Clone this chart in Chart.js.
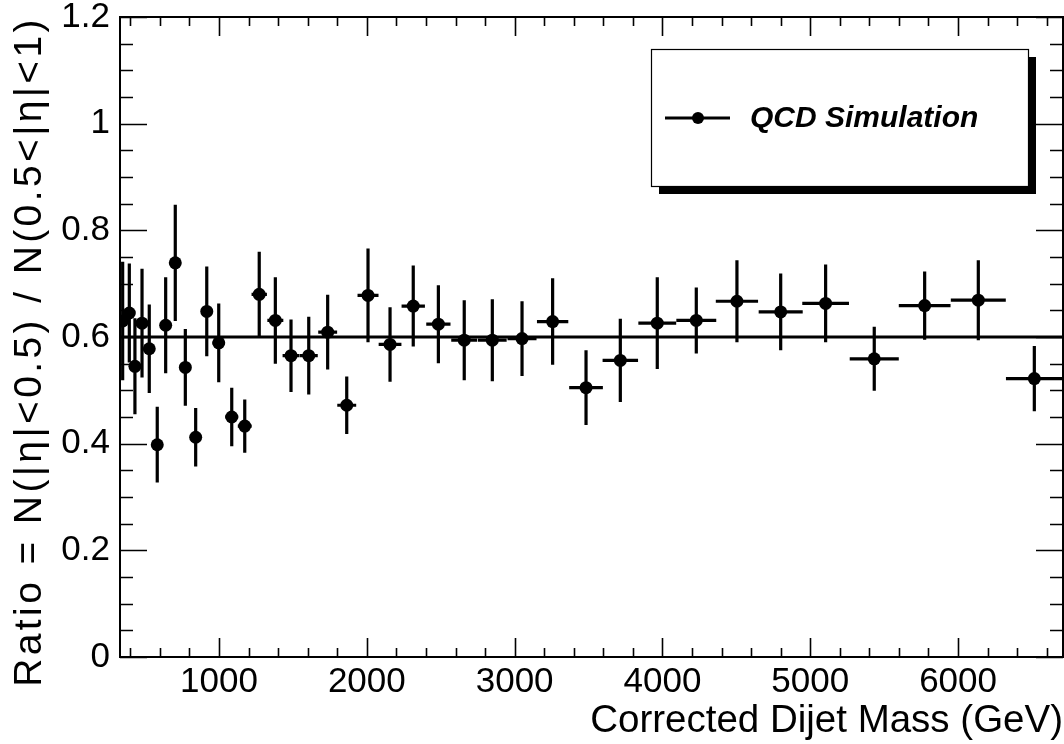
<!DOCTYPE html>
<html><head><meta charset="utf-8">
<script src="https://cdn.jsdelivr.net/npm/chart.js@4/dist/chart.umd.min.js"></script>
<style>html,body{margin:0;padding:0;background:#fff;}canvas{display:block;}</style>
</head><body>
<canvas id="c" width="1064" height="744"></canvas>
<script>
// ---- data ----
const massGeV = [348, 393, 431, 479, 528, 582, 639, 704, 772, 842, 917, 998, 1086, 1174, 1272, 1381, 1487, 1607, 1735, 1864,
  2008, 2157, 2314, 2484, 2659, 2849, 3050, 3257, 3483, 3715, 3965, 4229, 4504, 4800, 5104, 5433, 5774, 6137, 6516];
const massHalfWidth = [20, 21, 22, 24, 26, 28, 30, 33, 35, 37, 39, 42, 44, 47, 52, 54, 57, 61, 64, 64,
  71, 77, 79, 82, 88, 97, 98, 106, 114, 120, 128, 135, 143, 149, 158, 166, 175, 186, 192];
const ratio = [0.630, 0.645, 0.545, 0.626, 0.578, 0.398, 0.622, 0.739, 0.543, 0.412, 0.648, 0.589, 0.450, 0.433, 0.680, 0.631, 0.565, 0.565, 0.609, 0.472,
  0.678, 0.586, 0.658, 0.624, 0.594, 0.594, 0.597, 0.629, 0.505, 0.556, 0.626, 0.631, 0.667, 0.647, 0.663, 0.559, 0.659, 0.669, 0.522];
const ratioErr = [0.111, 0.093, 0.090, 0.102, 0.083, 0.071, 0.090, 0.109, 0.072, 0.055, 0.084, 0.074, 0.055, 0.050, 0.080, 0.081, 0.068, 0.073, 0.070, 0.054,
  0.088, 0.070, 0.076, 0.073, 0.075, 0.077, 0.070, 0.081, 0.070, 0.078, 0.086, 0.062, 0.077, 0.072, 0.073, 0.060, 0.064, 0.075, 0.061];
const fitMass = [330, 6710];
const fitRatio = [0.6, 0.6];
const xTickValues = [1000, 2000, 3000, 4000, 5000, 6000];
const yTickValues = [0, 0.2, 0.4, 0.6, 0.8, 1, 1.2];
const seriesLabel = 'QCD Simulation';
const xTitle = 'Corrected Dijet Mass (GeV)';
const yTitle = 'Ratio = N(|\u03B7|<0.5) / N(0.5<|\u03B7|<1)';
const xRange = [330, 6710];
const yRange = [0, 1.2];

const FONT = "'Liberation Sans', Arial, Helvetica, sans-serif";
const points = massGeV.map((m, i) => ({x: m, y: ratio[i], xe: massHalfWidth[i], ye: ratioErr[i]}));
const fitLine = fitMass.map((m, i) => ({x: m, y: fitRatio[i]}));

function noScalePadding(s) { s.paddingTop = 0; s.paddingBottom = 0; s.paddingLeft = 0; s.paddingRight = 0; }

const rootStyle = {
  id: 'rootStyle',
  beforeDatasetsDraw(chart) {
    const {ctx, chartArea: a, scales: {x, y}} = chart;
    ctx.save();
    ctx.beginPath(); ctx.rect(a.left, a.top, a.right - a.left, a.bottom - a.top); ctx.clip();
    ctx.strokeStyle = '#000'; ctx.lineWidth = 3.2; ctx.lineCap = 'butt';
    chart.data.datasets[0].data.forEach(p => {
      const px = x.getPixelForValue(p.x), py = y.getPixelForValue(p.y);
      ctx.beginPath();
      ctx.moveTo(x.getPixelForValue(p.x - p.xe), py); ctx.lineTo(x.getPixelForValue(p.x + p.xe), py);
      ctx.moveTo(px, y.getPixelForValue(p.y - p.ye)); ctx.lineTo(px, y.getPixelForValue(p.y + p.ye));
      ctx.stroke();
    });
    ctx.restore();
  },
  afterDraw(chart) {
    const {ctx, chartArea: a, scales: {x, y}} = chart;
    ctx.save();
    ctx.strokeStyle = '#000';
    // frame
    ctx.lineWidth = 2;
    ctx.strokeRect(a.left, a.top, a.right - a.left, a.bottom - a.top);
    // ticks (inward, mirrored)
    ctx.lineWidth = 1.6;
    ctx.beginPath();
    for (let v = 400; v <= xRange[1]; v += 200) {
      const px = Math.round(x.getPixelForValue(v)) + 0.5;
      const L = (v % 1000 === 0) ? 19 : 9;
      ctx.moveTo(px, a.bottom); ctx.lineTo(px, a.bottom - L);
      ctx.moveTo(px, a.top); ctx.lineTo(px, a.top + L);
    }
    for (let k = 0; k <= 24; k++) {
      const v = k * 0.05;
      const py = Math.round(y.getPixelForValue(v)) + 0.5;
      const L = (k % 4 === 0) ? 27 : 13;
      ctx.moveTo(a.left, py); ctx.lineTo(a.left + L, py);
      ctx.moveTo(a.right, py); ctx.lineTo(a.right - L, py);
    }
    ctx.stroke();

    // y title
    ctx.save();
    ctx.fillStyle = '#000';
    ctx.font = '39px ' + FONT;
    ctx.letterSpacing = '3.4px';
    ctx.translate(41, 16);
    ctx.rotate(-Math.PI / 2);
    ctx.textAlign = 'right';
    ctx.textBaseline = 'alphabetic';
    ctx.fillText(yTitle, 0, 0);
    ctx.restore();

    // legend with shadow
    const bx = 651, by = 49, bw = 377, bh = 137, sh = 8;
    ctx.fillStyle = '#000';
    ctx.fillRect(bx + sh, by + sh, bw, bh);
    ctx.fillStyle = '#fff';
    ctx.fillRect(bx, by, bw, bh);
    ctx.lineWidth = 1.2;
    ctx.strokeRect(bx + 0.5, by + 0.5, bw, bh);
    const ly = 118;
    ctx.lineWidth = 2.8;
    ctx.beginPath(); ctx.moveTo(665, ly); ctx.lineTo(730, ly); ctx.stroke();
    ctx.fillStyle = '#000';
    ctx.beginPath(); ctx.arc(698, ly, 6, 0, Math.PI * 2); ctx.fill();
    ctx.font = 'italic bold 30px ' + FONT;
    ctx.textAlign = 'left'; ctx.textBaseline = 'middle';
    ctx.fillText(chart.data.datasets[0].label, 750, ly + 1);
    ctx.restore();
  }
};

new Chart(document.getElementById('c'), {
  type: 'scatter',
  data: {
    datasets: [
      {label: seriesLabel, data: points, pointRadius: 6.5, pointHoverRadius: 6.5, pointBorderWidth: 0,
       backgroundColor: '#000', borderColor: '#000', showLine: false, order: 1},
      {label: 'fit', type: 'line', data: fitLine, borderColor: '#000', borderWidth: 3.2, pointRadius: 0,
       fill: false, tension: 0, order: 2}
    ]
  },
  options: {
    responsive: false, animation: false, devicePixelRatio: 1,
    layout: {autoPadding: false, padding: {top: 17, right: 1, left: 0, bottom: 0}},
    plugins: {legend: {display: false}, tooltip: {enabled: false}},
    scales: {
      x: {
        type: 'linear', min: xRange[0], max: xRange[1], position: 'bottom',
        grid: {display: false, drawTicks: false}, border: {display: false},
        afterFit(s) { s.height = 87; noScalePadding(s); },
        afterBuildTicks(s) { s.ticks = xTickValues.map(v => ({value: v})); },
        ticks: {font: {family: FONT, size: 35}, color: '#000', padding: 4, maxRotation: 0, autoSkip: false,
                callback: v => String(v)},
        title: {display: true, text: xTitle, align: 'end', color: '#000', font: {family: FONT, size: 38.5},
                padding: {top: 0, bottom: 0}}
      },
      y: {
        type: 'linear', min: yRange[0], max: yRange[1], position: 'left',
        grid: {display: false, drawTicks: false}, border: {display: false},
        afterFit(s) { s.width = 120; noScalePadding(s); },
        afterBuildTicks(s) { s.ticks = yTickValues.map(v => ({value: v})); },
        ticks: {font: {family: FONT, size: 35}, color: '#000', padding: 10, autoSkip: false,
                callback: v => String(Math.round(v * 10) / 10)}
      }
    }
  },
  plugins: [rootStyle]
});
</script>
</body></html>
